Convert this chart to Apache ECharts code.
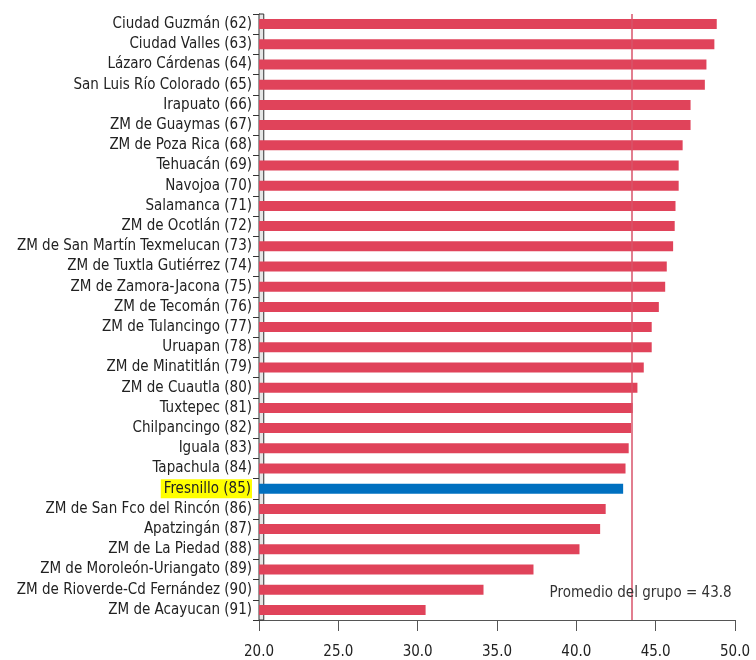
<!DOCTYPE html>
<html><head><meta charset="utf-8">
<script src="https://cdn.jsdelivr.net/npm/echarts@6/dist/echarts.min.js"></script>
<style>html,body{margin:0;padding:0;background:#fff}#c{width:756px;height:660px}</style>
</head><body><div id="c"></div>
<script>
const categories = ["Ciudad Guzmán (62)","Ciudad Valles (63)","Lázaro Cárdenas (64)","San Luis Río Colorado (65)","Irapuato (66)","ZM de Guaymas (67)","ZM de Poza Rica (68)","Tehuacán (69)","Navojoa (70)","Salamanca (71)","ZM de Ocotlán (72)","ZM de San Martín Texmelucan (73)","ZM de Tuxtla Gutiérrez (74)","ZM de Zamora-Jacona (75)","ZM de Tecomán (76)","ZM de Tulancingo (77)","Uruapan (78)","ZM de Minatitlán (79)","ZM de Cuautla (80)","Tuxtepec (81)","Chilpancingo (82)","Iguala (83)","Tapachula (84)","Fresnillo (85)","ZM de San Fco del Rincón (86)","Apatzingán (87)","ZM de La Piedad (88)","ZM de Moroleón-Uriangato (89)","ZM de Rioverde-Cd Fernández (90)","ZM de Acayucan (91)"];
const values = [48.85,48.7,48.2,48.1,47.2,47.2,46.7,46.45,46.45,46.25,46.2,46.1,45.7,45.6,45.2,44.75,44.75,44.25,43.85,43.55,43.45,43.3,43.1,42.95,41.85,41.5,40.2,37.3,34.15,30.5];
const highlighted = "Fresnillo (85)";
const xTicks = [20,25,30,35,40,45,50];
const meanLabel = "Promedio del grupo = 43.8";
const meanLineValue = 43.5;
const meanLabelAnchor = [44.05, "ZM de Rioverde-Cd Fernández (90)"];

// pick a condensed sans font if installed and size it to the reference label width
const cv = document.createElement('canvas').getContext('2d');
function w(font, t){ cv.font = font; return cv.measureText(t).width; }
function available(name){
  const t = 'abcdefghijklmnopqrstuvwxyzABCDEFGHIJ0123456789';
  return w('50px "'+name+'",monospace',t)!==w('50px monospace',t) || w('50px "'+name+'",serif',t)!==w('50px serif',t);
}
const candidates = ['Liberation Sans Narrow','Arial Narrow','DejaVu Sans Condensed','Roboto'];
let FAM = 'Roboto';
for (const c of candidates){ if (available(c)) { FAM = c; break; } }
const FONT = '"'+FAM+'",sans-serif';
const w100 = w('100px '+FONT, 'Ciudad Guzmán (62)');
const FS = Math.round(141/w100*100*2)/2;

const chart = echarts.init(document.getElementById('c'), null, {renderer:'canvas'});
chart.setOption({
  animation:false,
  grid:{left:259,right:21,top:14,bottom:40,containLabel:false,outerBoundsMode:'none'},
  xAxis:{type:'value',min:xTicks[0],max:xTicks[xTicks.length-1],interval:5,
    axisLine:{show:true,lineStyle:{color:'#555',width:1}},
    axisTick:{show:true,length:11,lineStyle:{color:'#555'}},
    splitLine:{show:false},
    axisLabel:{margin:25,color:'#222',fontFamily:FONT,fontSize:FS,formatter:v=>v.toFixed(1)}},
  yAxis:{type:'category',data:categories,inverse:true,
    axisLine:{show:true,lineStyle:{color:'#333',width:1}},
    axisTick:{show:true,length:6,lineStyle:{color:'#333'}},
    axisLabel:{interval:0,margin:7,color:'#222',fontFamily:FONT,fontSize:FS,
      formatter:v=> v===highlighted ? '{hl|'+v+'}' : v,
      rich:{hl:{backgroundColor:'#ffff00',color:'#222',fontFamily:FONT,fontSize:FS,padding:[2,1,2,3]}}}},
  series:[{type:'bar',barWidth:10,
    data:values.map((v,i)=>({value:v,itemStyle:{color:categories[i]===highlighted?'#0070c0':'#e0435a'}})),
    markArea:{silent:true,itemStyle:{color:'#e6e6e6',borderColor:'#333',borderWidth:1},
      data:[[{xAxis:20},{xAxis:20.3}]]},
    markLine:{silent:true,symbol:'none',lineStyle:{color:'#d9536a',width:1.5,type:'solid'},
      label:{show:false},data:[{xAxis:meanLineValue}]},
    markPoint:{silent:true,symbol:'rect',symbolSize:0,
      label:{show:true,position:'inside',offset:[0,3],color:'#333',fontFamily:FONT,fontSize:FS,formatter:meanLabel},
      data:[{coord:meanLabelAnchor}]}
  }]
});
</script></body></html>
